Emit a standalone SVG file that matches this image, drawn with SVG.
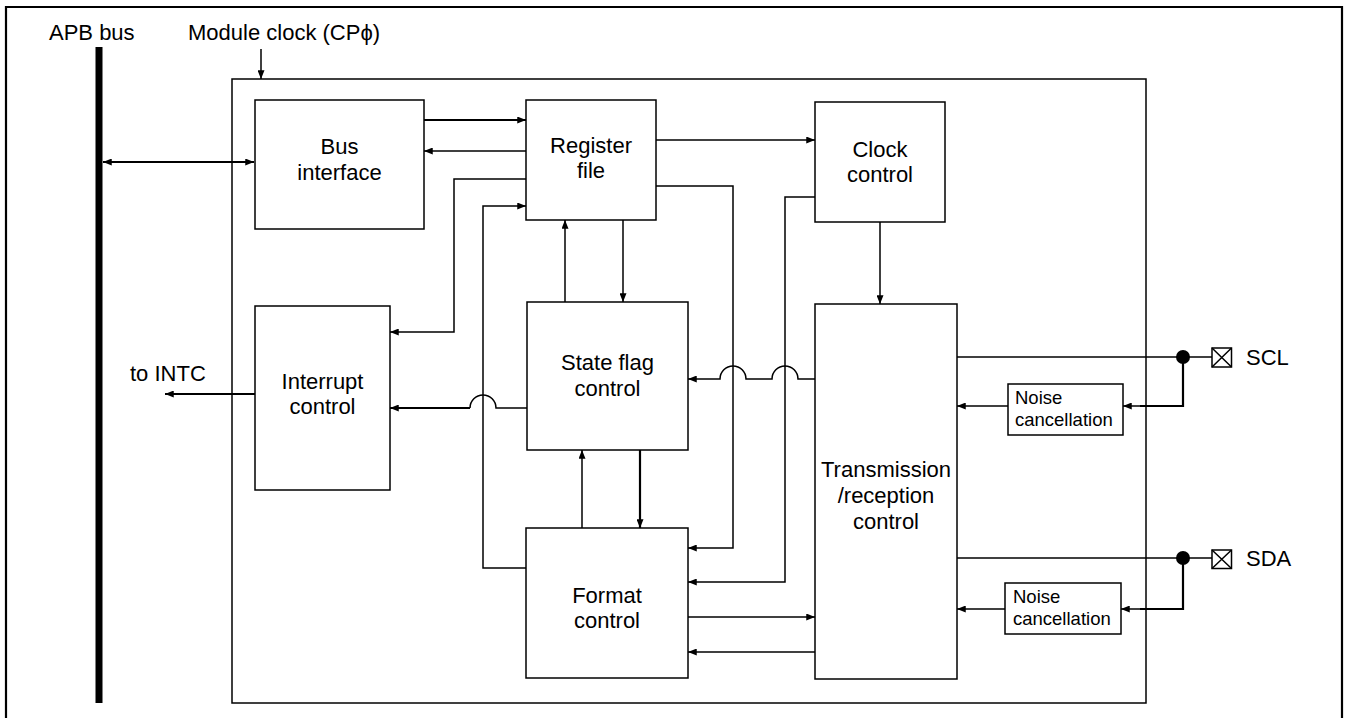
<svg xmlns="http://www.w3.org/2000/svg" width="1346" height="718" viewBox="0 0 1346 718">
<style>
.box{fill:#fff;stroke:#000;stroke-width:1.5}
.frame{fill:none;stroke:#000;stroke-width:1.5}
.ln{fill:none;stroke:#000;stroke-width:1.5}
.th{fill:none;stroke:#000;stroke-width:2.2}
.lbl{font-family:"Liberation Sans",Arial,sans-serif;font-size:22px;fill:#000}
.c{text-anchor:middle}
.sm{font-family:"Liberation Sans",Arial,sans-serif;font-size:18.5px;fill:#000}
.a{marker-end:url(#ah)}
.ab{marker-start:url(#ah);marker-end:url(#ah)}
</style>
<defs>
<marker id="ah" viewBox="0 0 10 8" refX="10" refY="4" markerWidth="9" markerHeight="7" orient="auto-start-reverse" markerUnits="userSpaceOnUse"><path d="M0,0 L10,4 L0,8 z" fill="#000"/></marker>
</defs>
<rect x="0" y="0" width="1346" height="718" fill="#fff"/>
<g id="outer-frame"><path d="M6,725 V7 H1342 V725" fill="none" stroke="#000" stroke-width="2.2"/></g>
<g id="apb-bus">
<rect x="95.5" y="47" width="7" height="656" fill="#000"/>
<text class="lbl" x="49" y="40">APB bus</text>
</g>
<g id="module-clock"><text class="lbl" x="188" y="40">Module clock (CPϕ)</text></g>
<g id="module"><rect class="frame" x="232" y="79" width="914" height="624"/></g>
<g id="bus-interface"><rect class="box" x="255" y="100" width="169" height="129"/>
<text class="lbl c" x="339.5" y="154">Bus</text><text class="lbl c" x="339.5" y="180">interface</text></g>
<g id="register-file"><rect class="box" x="526" y="100" width="130" height="120"/>
<text class="lbl c" x="591" y="153">Register</text><text class="lbl c" x="591" y="178">file</text></g>
<g id="clock-control"><rect class="box" x="815" y="102" width="130" height="120"/>
<text class="lbl c" x="880" y="157">Clock</text><text class="lbl c" x="880" y="182">control</text></g>
<g id="interrupt-control"><rect class="box" x="255" y="306" width="135" height="184"/>
<text class="lbl c" x="322.5" y="389">Interrupt</text><text class="lbl c" x="322.5" y="414">control</text></g>
<g id="state-flag-control"><rect class="box" x="527" y="302" width="161" height="148"/>
<text class="lbl c" x="607.5" y="370">State flag</text><text class="lbl c" x="607.5" y="396">control</text></g>
<g id="format-control"><rect class="box" x="526" y="528" width="162" height="150"/>
<text class="lbl c" x="607" y="603">Format</text><text class="lbl c" x="607" y="628">control</text></g>
<g id="trx-control"><rect class="box" x="815" y="304" width="142" height="375"/>
<text class="lbl c" x="886" y="477">Transmission</text><text class="lbl c" x="886" y="503">/reception</text><text class="lbl c" x="886" y="529">control</text></g>
<g id="noise-scl"><rect class="box" x="1008" y="384" width="115" height="51"/>
<text class="sm" x="1015" y="404">Noise</text><text class="sm" x="1015" y="426">cancellation</text></g>
<g id="noise-sda"><rect class="box" x="1005" y="583" width="116" height="51"/>
<text class="sm" x="1013" y="603">Noise</text><text class="sm" x="1013" y="625">cancellation</text></g>
<g id="pin-scl"><rect class="ln" x="1212" y="348" width="19.5" height="19"/><path class="ln" d="M1212,348 L1231.5,367 M1231.5,348 L1212,367"/>
<text class="lbl" x="1246" y="365">SCL</text></g>
<g id="pin-sda"><rect class="ln" x="1212" y="550" width="19.5" height="18.5"/><path class="ln" d="M1212,550 L1231.5,568.5 M1231.5,550 L1212,568.5"/>
<text class="lbl" x="1246" y="566">SDA</text></g>
<g id="to-intc"><text class="lbl" x="130" y="381">to INTC</text></g>
<g id="connectors">
<path class="ln a" d="M261,49 V79"/>
<path class="th ab" d="M103,162 H254"/>
<path class="th a" d="M424,120 H526"/>
<path class="ln a" d="M526,151 H424"/>
<path class="ln a" d="M526,179 H454 V332 H390"/>
<path class="ln a" d="M526,568 H483 V206 H526"/>
<path class="ln a" d="M656,140 H815"/>
<path class="ln a" d="M656,186 H733 V548 H688"/>
<path class="ln a" d="M815,197 H785 V582 H688"/>
<path class="ln a" d="M565,302 V220"/>
<path class="ln a" d="M623,220 V302"/>
<path class="ln" d="M527,408 H496 A13,13 0 0 0 470,408"/>
<path class="th a" d="M470,408 H390"/>
<path class="th a" d="M255,394 H165"/>
<path class="ln a" d="M815,379 H798 A13,13 0 0 0 772,379 H746 A13,13 0 0 0 720,379 H688"/>
<path class="ln a" d="M880,222 V304"/>
<path class="ln a" d="M582,528 V450"/>
<path class="th a" d="M640,450 V528"/>
<path class="ln a" d="M688,617 H815"/>
<path class="ln a" d="M815,652 H688"/>
<path class="ln" d="M957,357 H1212"/>
<circle cx="1183" cy="357" r="7" fill="#000"/>
<path class="th" d="M1183,357 V406 H1140"/>
<path class="ln a" d="M1141,406 H1123"/>
<path class="ln a" d="M1008,406 H957"/>
<path class="ln" d="M957,558 H1212"/>
<circle cx="1183" cy="558" r="7" fill="#000"/>
<path class="th" d="M1183,558 V609 H1140"/>
<path class="ln a" d="M1141,609 H1121"/>
<path class="ln a" d="M1005,609 H957"/>
</g>
</svg>
